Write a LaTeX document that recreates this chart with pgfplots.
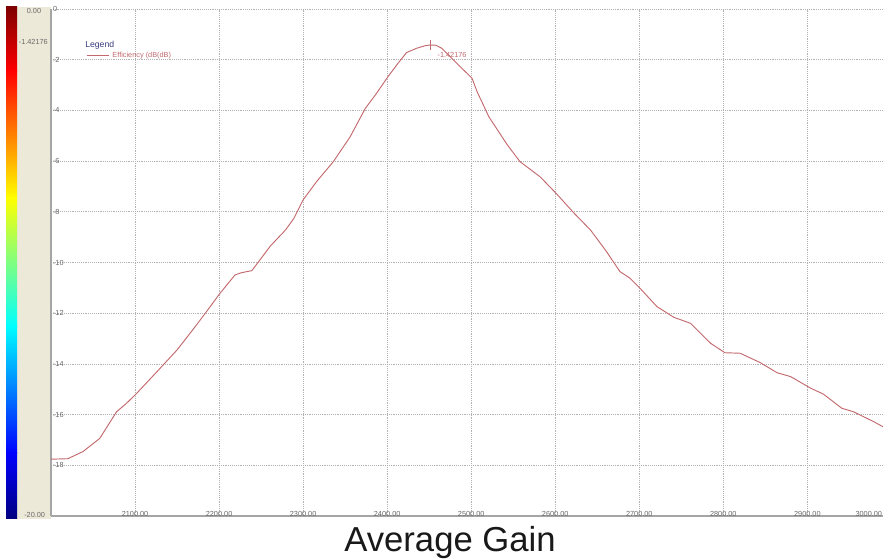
\documentclass[border=0pt]{standalone}
\usepackage{pgfplots}
\pgfplotsset{compat=1.18}
\usepackage{fontspec}
\setmainfont{Liberation Sans}
\definecolor{curve}{RGB}{195,105,110}
\definecolor{beige}{RGB}{236,233,216}
\definecolor{axgray}{RGB}{165,165,165}
\definecolor{tickgray}{RGB}{105,105,105}
\definecolor{legblue}{RGB}{60,60,130}
\definecolor{jdr}{rgb}{0.5,0,0}
\definecolor{jdb}{rgb}{0,0,0.5}
\definecolor{jr}{rgb}{1,0,0}
\definecolor{jy}{rgb}{1,1,0}
\definecolor{jc}{rgb}{0,1,1}
\definecolor{jb}{rgb}{0,0,1}

\pgfplotstableread{
x y
2000 -17.76
2020 -17.74
2038 -17.46
2058 -16.94
2078 -15.89
2090 -15.55
2102 -15.16
2126 -14.31
2150 -13.45
2173 -12.47
2185 -11.94
2201 -11.22
2219 -10.49
2227 -10.40
2239 -10.32
2247 -9.97
2261 -9.35
2279 -8.72
2289 -8.26
2300 -7.53
2316 -6.81
2336 -6.02
2356 -5.04
2374 -3.92
2386 -3.39
2401 -2.67
2413 -2.14
2423 -1.72
2435 -1.55
2445 -1.45
2451 -1.42
2458 -1.43
2465 -1.55
2475 -1.88
2487 -2.28
2501 -2.73
2507 -3.26
2521 -4.25
2543 -5.36
2558 -6.02
2582 -6.62
2601 -7.27
2622 -8.04
2642 -8.72
2661 -9.57
2677 -10.36
2689 -10.62
2701 -11.02
2721 -11.74
2741 -12.16
2761 -12.40
2785 -13.19
2802 -13.56
2820 -13.58
2844 -13.95
2864 -14.35
2880 -14.50
2904 -14.96
2919 -15.19
2941 -15.75
2955 -15.89
2979 -16.28
2990 -16.48
}\gaindata

\begin{document}
\begin{tikzpicture}
\path[use as bounding box, fill=white] (0,0) rectangle (662.25pt,420pt);
% beige panel
\fill[beige] (12.75pt,30.75pt) rectangle (38.25pt,414.75pt);
% jet colour bar
\shade[top color=jdr, bottom color=jr] (4.5pt,366.5pt) rectangle (12.75pt,414.75pt);
\shade[top color=jr, bottom color=jy] (4.5pt,271.3pt) rectangle (12.75pt,367pt);
\shade[top color=jy, bottom color=jc] (4.5pt,175.3pt) rectangle (12.75pt,271.7pt);
\shade[top color=jc, bottom color=jb] (4.5pt,80pt) rectangle (12.75pt,175.7pt);
\shade[top color=jb, bottom color=jdb] (4.5pt,30.75pt) rectangle (12.75pt,80.5pt);
\node[font=\fontsize{5.5}{6}\selectfont, text=tickgray] at (25.5pt,411.5pt) {0.00};
\node[font=\fontsize{5.5}{6}\selectfont, text=tickgray] at (25pt,388.5pt) {-1.42176};
\node[font=\fontsize{5.5}{6}\selectfont, text=tickgray] at (26pt,33.8pt) {-20.00};

\begin{axis}[
  at={(38.25pt,33pt)}, anchor=south west,
  scale only axis, width=624pt, height=380.25pt,
  xmin=2000, xmax=2990, ymin=-20, ymax=0,
  axis lines=left,
  axis line style={-, draw=axgray, line width=1.5pt},
  clip=false,
  grid=major,
  major grid style={densely dotted, gray!60, line width=0.5pt},
  major tick length=0pt,
  xtick={2100,2200,2300,2400,2500,2600,2700,2800,2900},
  xticklabels={2100.00,2200.00,2300.00,2400.00,2500.00,2600.00,2700.00,2800.00,2900.00},
  ytick={-18,-16,-14,-12,-10,-8,-6,-4,-2,0},
  yticklabels={-18,-16,-14,-12,-10,-8,-6,-4,-2,0},
  xticklabel style={anchor=center, yshift=1.5pt, font=\fontsize{5.5}{6}\selectfont, text=tickgray},
  yticklabel style={anchor=west, xshift=-2pt, font=\fontsize{5.5}{6}\selectfont, text=tickgray},
  legend style={at={(0.042,0.908)}, anchor=west, draw=none, fill=none,
    font=\fontsize{5.5}{6}\selectfont, text=curve, inner sep=0pt},
  legend image code/.code={\draw[#1, draw=curve, line width=0.7pt] (0pt,0pt) -- (17pt,0pt);},
]
\addplot[curve, line width=0.7pt] table[x=x, y=y] {\gaindata};
\addlegendentry{Efficiency (dB(dB)}
\addplot[curve, mark=|, mark size=3.75pt, line width=0.7pt, forget plot] coordinates {(2451,-1.42)}
  node[anchor=west, xshift=2pt, yshift=-7.2pt, font=\fontsize{5.5}{6}\selectfont, text=curve] {-1.42176};
\node[anchor=east, text=tickgray, font=\fontsize{5.5}{6}\selectfont, yshift=1.5pt, inner sep=0.5pt] at (axis cs:2990,-20) {3000.00};
\end{axis}
\node[anchor=west, font=\fontsize{6.5}{7}\selectfont, text=legblue, inner sep=0pt] at (63.75pt,385.7pt) {Legend};
\node[anchor=base, font=\fontsize{26}{30}\selectfont, text=black!90, inner sep=0pt] at (337.5pt,6pt) {Average Gain};
\end{tikzpicture}
\end{document}
